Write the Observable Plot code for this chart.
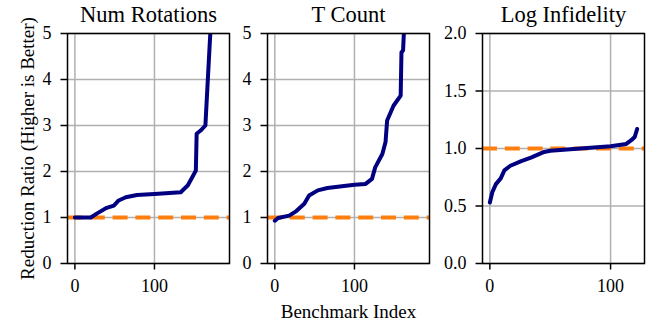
<!DOCTYPE html>
<html><head><meta charset="utf-8">
<script src="https://cdn.jsdelivr.net/npm/d3@7"></script>
<script src="https://cdn.jsdelivr.net/npm/@observablehq/plot@0.6"></script>
<style>
body{margin:0;background:#fff;}
#chart{position:relative;width:654px;height:325px;overflow:hidden;background:#fff;}
#chart svg{position:absolute;top:0;}
#chart svg text{font-family:'Liberation Serif','Times New Roman',serif !important;}
</style></head><body><div id="chart"></div>
<script>
const titles = ["Num Rotations", "T Count", "Log Infidelity"];
const yLabel = "Reduction Ratio (Higher is Better)";
const xLabel = "Benchmark Index";
const xTicks = [0, 100];
const ticks05 = [0, 1, 2, 3, 4, 5];
const ticks02 = [0, 0.5, 1, 1.5, 2];

// Num Rotations (sorted reduction ratio per benchmark)
const rotIdx  = [0, 20, 28, 40, 49, 55, 64, 78, 100, 133, 142, 152, 153, 158, 164, 167, 170, 174, 178, 182, 185];
const rotVals = [1.0, 1.0, 1.09, 1.21, 1.26, 1.37, 1.44, 1.49, 1.51, 1.55, 1.70, 2.02, 2.82, 2.89, 3.0, 3.98, 4.95, 5.8, 6.9, 8.5, 11];

// T Count
const tIdx  = [0, 4, 18, 27, 37, 43, 54, 66, 100, 114, 122, 126, 135, 139, 141, 149, 158, 159, 161, 162, 166, 172, 178, 185];
const tVals = [0.93, 0.99, 1.04, 1.14, 1.30, 1.48, 1.59, 1.64, 1.71, 1.73, 1.84, 2.09, 2.38, 2.64, 3.11, 3.43, 3.65, 4.59, 4.63, 5.0, 5.6, 6.5, 8, 10];

// Log Infidelity
const infIdx  = [0, 2, 5, 9, 12, 17, 26, 34, 45, 50, 75, 100, 113, 118, 120, 122];
const infVals = [0.53, 0.62, 0.69, 0.74, 0.81, 0.85, 0.89, 0.92, 0.97, 0.98, 1.0, 1.02, 1.04, 1.08, 1.10, 1.17];

const baseline = [1];

const chart = document.getElementById("chart");
const FONT = "'Liberation Serif', 'Times New Roman', serif";

function panel({idx, vals, xDomain, yDomain, yTicks, yFormat, title, frameLeft, extra = []}) {
  const mL = 60, mR = 6, mT = 33, mB = 62, fw = 162;
  const data = idx.map((x, i) => ({x, y: vals[i]}));
  const p = Plot.plot({
    width: mL + fw + mR, height: 325,
    marginLeft: mL, marginRight: mR, marginTop: mT, marginBottom: mB,
    style: {fontFamily: FONT, fontSize: "18px", background: "transparent", overflow: "visible", color: "black"},
    x: {domain: xDomain},
    y: {domain: yDomain},
    marks: [
      Plot.gridX(xTicks, {stroke: "#b0b0b0", strokeOpacity: 1, strokeWidth: 1.5}),
      Plot.gridY(yTicks, {stroke: "#b0b0b0", strokeOpacity: 1, strokeWidth: 1.5}),
      Plot.ruleY(baseline, {stroke: "#ff7f0e", strokeWidth: 4, strokeDasharray: "15,7.8"}),
      Plot.line(data, {x: "x", y: "y", stroke: "#000080", strokeWidth: 4, clip: true, strokeLinejoin: "round"}),
      Plot.frame({stroke: "black", strokeWidth: 1.5}),
      Plot.axisX(xTicks, {tickSize: 6.5, tickPadding: 9.5, strokeWidth: 1.5, label: null, fontFamily: FONT, fontSize: 18, fill: "black"}),
      Plot.axisY(yTicks, {tickSize: 6.5, tickPadding: 9.5, strokeWidth: 1.5, tickFormat: yFormat, label: null, fontFamily: FONT, fontSize: 18, fill: "black"}),
      Plot.text([title], {frameAnchor: "top", lineAnchor: "bottom", dy: -11.5, fontSize: 22.5, fontFamily: FONT, fill: "black"}),
      ...extra
    ]
  });
  p.style.left = (frameLeft - mL) + "px";
  chart.append(p);
}

panel({idx: rotIdx, vals: rotVals, xDomain: [-9.3, 194.3], yDomain: [0, 5], yTicks: ticks05, yFormat: d3.format("d"),
  title: titles[0], frameLeft: 67,
  extra: [Plot.text([yLabel], {frameAnchor: "left", textAnchor: "middle", rotate: -90, lineAnchor: "bottom", dx: -34, fontSize: 19, fontFamily: FONT, fill: "black"})]});
panel({idx: tIdx, vals: tVals, xDomain: [-9.2, 194.2], yDomain: [0, 5], yTicks: ticks05, yFormat: d3.format("d"),
  title: titles[1], frameLeft: 267,
  extra: [Plot.text([xLabel], {frameAnchor: "bottom", lineAnchor: "bottom", dy: 54, fontSize: 19, fontFamily: FONT, fill: "black"})]});
panel({idx: infIdx, vals: infVals, xDomain: [-6.1, 128.1], yDomain: [0, 2], yTicks: ticks02, yFormat: d3.format(".1f"),
  title: titles[2], frameLeft: 482});
</script>
</body></html>
